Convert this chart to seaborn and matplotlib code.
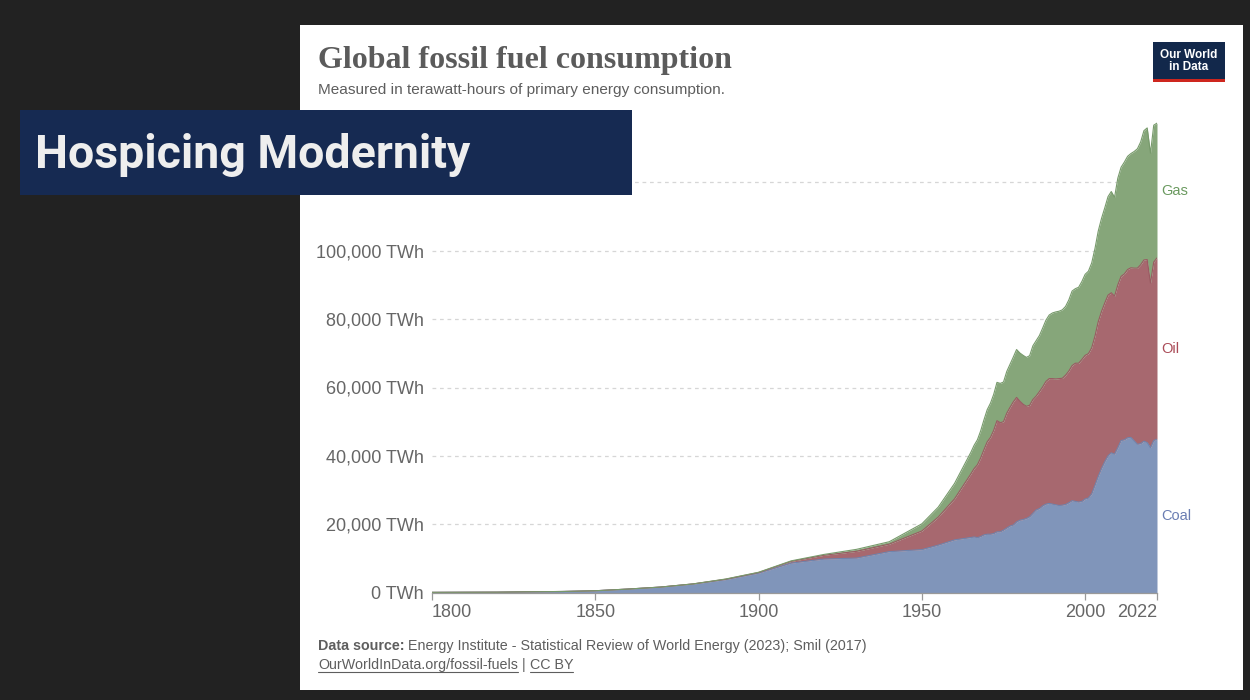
import matplotlib
matplotlib.use("Agg")
import matplotlib.pyplot as plt
from matplotlib.patches import Rectangle
from matplotlib.lines import Line2D
import numpy as np
import pandas as pd
import seaborn as sns

# ---------------------------------------------------------------- data (TWh)
years = (list(range(1800, 1950, 10)) + [1950, 1955, 1960]
         + list(range(1965, 2023)))

coal = [
    97, 128, 153, 264, 356, 569, 1061, 1642, 2542, 3856,
    5728, 8656, 9833, 10125, 12000,
    12603, 13900, 15442,
    # 1965-1974
    16140, 16300, 16100, 16400, 16900, 17100, 17100, 17300, 17800, 17800,
    # 1975-1984
    18300, 18900, 19500, 19800, 20700, 21200, 21400, 21700, 22200, 23200,
    # 1985-1994
    24200, 24600, 25400, 25900, 26100, 25900, 25700, 25500, 25600, 25800,
    # 1995-2004
    26300, 26900, 26700, 26500, 26700, 27400, 27700, 28900, 31400, 34000,
    # 2005-2014
    36300, 38300, 40000, 40900, 40500, 42400, 44500, 44700, 45300, 45400,
    # 2015-2022
    44400, 43400, 43600, 44300, 43900, 42400, 44500, 44900,
]

oil = [
    0, 0, 0, 0, 0, 0, 0, 6, 33, 89,
    181, 511, 1111, 1974, 2200,
    5444, 8200, 12000,
    # 1965-1974
    18600, 20000, 21300, 23000, 24900, 27000, 28300, 30200, 32500, 31900,
    # 1975-1984
    31700, 33600, 34700, 36000, 36400, 34800, 33700, 32800, 32600, 33300,
    # 1985-1994
    33300, 34200, 34800, 35900, 36500, 36700, 36800, 37100, 37100, 37800,
    # 1995-2004
    38500, 39500, 40400, 40600, 41500, 42000, 42200, 42700, 43600, 45200,
    # 2005-2014
    45900, 46400, 47000, 46800, 46200, 47600, 48000, 48500, 49200, 49600,
    # 2015-2022
    50500, 51500, 52300, 53000, 53500, 48100, 52200, 53000,
]

gas = [
    0, 0, 0, 0, 0, 0, 0, 0, 0, 70,
    64, 150, 240, 580, 700,
    2092, 2900, 4500,
    # 1965-1974
    6300, 6800, 7300, 7900, 8700, 9400, 10000, 10500, 11200, 11500,
    # 1975-1984
    11600, 12200, 12600, 13100, 14000, 14100, 14300, 14300, 14500, 15700,
    # 1985-1994
    16200, 16400, 17200, 17900, 18600, 19200, 19600, 19700, 20000, 20100,
    # 1995-2004
    20800, 21800, 21800, 22200, 22800, 23700, 24100, 24800, 25600, 26500,
    # 2005-2014
    27200, 27800, 28800, 29600, 28900, 31200, 31900, 32700, 33100, 33400,
    # 2015-2022
    34100, 34900, 35900, 37800, 38500, 38000, 40000, 39400,
]

fuels = ["Coal", "Oil", "Gas"]
grid_values = [20000, 40000, 60000, 80000, 100000, 120000]
y_ticks = [0, 20000, 40000, 60000, 80000, 100000]
x_ticks = [1800, 1850, 1900, 1950, 2000, 2022]

title = "Global fossil fuel consumption"
subtitle = "Measured in terawatt-hours of primary energy consumption."
source_bold = "Data source:"
source_rest = " Energy Institute - Statistical Review of World Energy (2023); Smil (2017)"
link_text = "OurWorldInData.org/fossil-fuels"
licence_text = "CC BY"
banner_text = "Hospicing Modernity"

df = pd.DataFrame({"year": years, "Coal": coal, "Oil": oil, "Gas": gas})
cum = df[fuels].cumsum(axis=1)

# ---------------------------------------------------------------- styling
sns.set_theme(style="white")
plt.rcParams["font.family"] = ["Liberation Sans", "DejaVu Sans"]

fill_colors = {"Coal": "#8095ba", "Oil": "#a7686f", "Gas": "#86a67a"}
edge_colors = {"Coal": "#6f84ad", "Oil": "#9a5a62", "Gas": "#779a6b"}
label_colors = {"Coal": "#6a7db2", "Oil": "#ab4c58", "Gas": "#6b9a60"}
text_grey = "#666666"

W, H = 1250, 700
fig = plt.figure(figsize=(W / 100, H / 100), dpi=100, facecolor="#222222")


def fx(x):
    return x / W


def fy(y):
    return 1 - y / H


# white card behind everything
fig.patches.append(Rectangle((fx(300), fy(690)), fx(943), (690 - 25) / H,
                             transform=fig.transFigure, facecolor="white",
                             edgecolor="none", zorder=-10))

ax_left, ax_right = 432, 1157
ax_zero, ax_top = 592.7, 113.9
ax = fig.add_axes([fx(ax_left), fy(ax_zero), (ax_right - ax_left) / W,
                   (ax_zero - ax_top) / H])
ax.set_zorder(1)
ax.patch.set_visible(False)

lower = np.zeros(len(df))
for fuel in fuels:
    upper = cum[fuel].to_numpy()
    ax.fill_between(df["year"], lower, upper, color=fill_colors[fuel],
                    linewidth=0, zorder=2)
    sns.lineplot(x=df["year"], y=upper, ax=ax, color=edge_colors[fuel],
                 linewidth=0.8, zorder=3, legend=False)
    lower = upper

ax.set_xlim(1800, 2022)
ax.set_ylim(0, 140000)
ax.set_xlabel("")
ax.set_ylabel("")

for v in grid_values:
    ax.axhline(v, color="#d6d6d6", linewidth=0.9, linestyle=(0, (3, 3)),
               zorder=1)

ax.set_yticks(y_ticks)
ax.set_yticklabels([f"{v:,} TWh" for v in y_ticks])
ax.set_xticks(x_ticks)
ax.set_xticklabels([str(v) for v in x_ticks])
xt = ax.get_xticklabels()
xt[0].set_horizontalalignment("left")
xt[-1].set_horizontalalignment("right")

ax.tick_params(axis="y", length=0, pad=6, labelsize=13, labelcolor=text_grey)
ax.tick_params(axis="x", length=5, width=0.9, color="#999999", pad=3,
               labelsize=13, labelcolor=text_grey, direction="out",
               bottom=True)
for side in ["top", "right", "left"]:
    ax.spines[side].set_visible(False)
ax.spines["bottom"].set_color("#999999")
ax.spines["bottom"].set_linewidth(0.9)
ax.spines["bottom"].set_zorder(4)

# series labels at the middle of each band in the last year
last = df.iloc[-1]
base = 0
for fuel in fuels:
    mid = base + last[fuel] / 2
    base += last[fuel]
    ax.annotate(fuel, xy=(1, mid), xycoords=("axes fraction", "data"),
                xytext=(3, 0), textcoords="offset points", va="center",
                ha="left", fontsize=10.5, color=label_colors[fuel],
                annotation_clip=False)

# header
fig.text(fx(318), fy(68), title, fontsize=23, fontweight="bold",
         family=["Liberation Serif", "DejaVu Serif"], color="#5b5b5b",
         va="baseline", ha="left")
fig.text(fx(318), fy(94), subtitle, fontsize=11.1, color="#5e5e5e",
         va="baseline", ha="left")

# logo
fig.patches.append(Rectangle((fx(1153), fy(82)), fx(72), 40 / H,
                             transform=fig.transFigure, facecolor="#12284b",
                             edgecolor="none", zorder=5))
fig.patches.append(Rectangle((fx(1153), fy(82)), fx(72), 3 / H,
                             transform=fig.transFigure, facecolor="#ce261e",
                             edgecolor="none", zorder=6))
fig.text(fx(1189), fy(58), "Our World", fontsize=8.5, fontweight="bold",
         color="white", ha="center", va="baseline", zorder=7)
fig.text(fx(1189), fy(70), "in Data", fontsize=8.5, fontweight="bold",
         color="white", ha="center", va="baseline", zorder=7)

# banner
fig.patches.append(Rectangle((fx(20), fy(195)), fx(612), 85 / H,
                             transform=fig.transFigure, facecolor="#162a52",
                             edgecolor="none", zorder=20))
fig.text(fx(35), fy(168), banner_text, fontsize=33.5, fontweight="bold",
         family=["Roboto", "DejaVu Sans"], color="#eeeeee", ha="left",
         va="baseline", zorder=21)

# footer, composed from pieces placed one after the other
renderer = fig.canvas.get_renderer()


def place(x_px, y_px, s, **kw):
    t = fig.text(fx(x_px), fy(y_px), s, ha="left", va="baseline",
                 fontsize=10.3, color="#5e5e5e", **kw)
    bb = t.get_window_extent(renderer=renderer)
    return t, bb


def underline(bb, y_px):
    fig.lines.append(Line2D([bb.x0 / W, bb.x1 / W], [fy(y_px), fy(y_px)],
                            transform=fig.transFigure, color="#5e5e5e",
                            linewidth=0.8))


_, bb = place(318, 650, source_bold, fontweight="bold")
place(bb.x1, 650, source_rest)

_, bb = place(318, 669, link_text)
underline(bb, 671.5)
_, bb2 = place(bb.x1, 669, " | ")
_, bb3 = place(bb2.x1, 669, licence_text)
underline(bb3, 671.5)

fig.savefig("out.png", dpi=100, facecolor=fig.get_facecolor())
